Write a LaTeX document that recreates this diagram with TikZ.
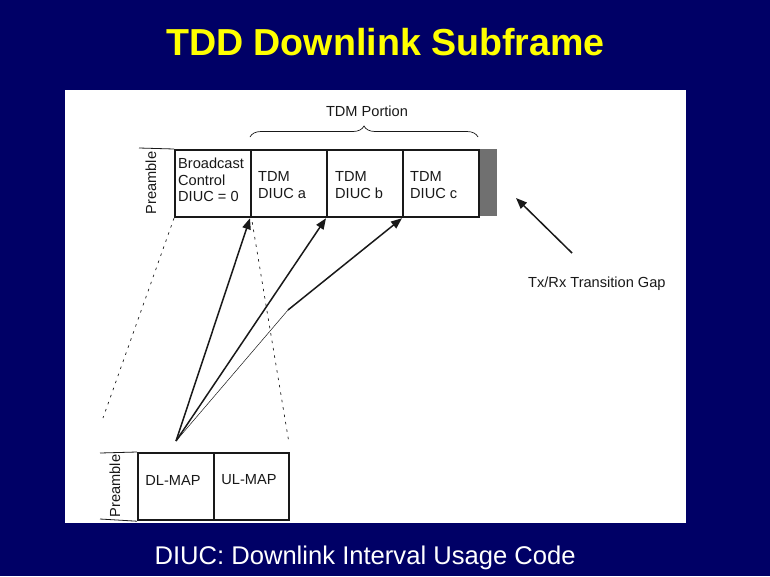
\documentclass[tikz,border=0pt]{standalone}
\usepackage{fontspec}
\setmainfont{Liberation Sans}
\usetikzlibrary{decorations.pathreplacing,arrows.meta}
\definecolor{navy}{RGB}{0,0,102}
\definecolor{titleyellow}{RGB}{255,255,0}
\definecolor{gapgray}{RGB}{112,112,112}
\definecolor{ink}{RGB}{25,25,25}
\begin{document}
\begin{tikzpicture}[x=1pt,y=-1pt,
  cell/.style={draw=ink,line width=2.2pt,minimum width=76pt,minimum height=67pt,inner sep=0pt,anchor=north west,font=\fontsize{14.6}{16.5}\selectfont,text=ink},
  lbl/.style={font=\fontsize{14.6}{16.5}\selectfont,text=ink,align=left,inner sep=0pt},
  arr/.style={draw=ink,line width=1.5pt,-{Triangle[length=11pt,width=8.5pt]}},
  dots/.style={draw=ink,line width=0.7pt,dash pattern=on 2.5pt off 5pt}]
\fill[navy] (0,0) rectangle (770,576);
\useasboundingbox (0,0) rectangle (770,576);
\node[font=\fontsize{37.6}{42}\selectfont\bfseries,text=titleyellow] (title) at (385.5,42) {TDD Downlink Subframe};
\fill[white] (65,90) rectangle (686,523);
% top frame
\fill[gapgray] (478,149) rectangle (497,216);
\node[cell] (bc) at (174,149) {};
\node[cell] (ta) at (250,149) {};
\node[cell] (tb) at (326,149) {};
\node[cell] (tc) at (402,149) {};
\draw[ink,line width=0.8pt] (139,148) -- (bc.north west);
\node[lbl,rotate=90,anchor=center] (pre1) at (151,183) {Preamble};
\node[lbl,anchor=north west] (bctext) at (178,158) {Broadcast\\Control\\DIUC = 0};
\node[lbl,anchor=west] (tatext) at (258,185) {TDM\\DIUC a};
\node[lbl,anchor=west] (tbtext) at (335,185) {TDM\\DIUC b};
\node[lbl,anchor=west] (tctext) at (410,185) {TDM\\DIUC c};
\draw[ink,line width=0.7pt,decorate,decoration={brace,amplitude=11pt}] (250,137) -- (478,137);
\node[lbl] (portion) at (367,111) {TDM Portion};
% bottom frame
\node[cell,minimum width=76pt] (dl) at (137,452) {};
\node[cell,minimum width=75pt] (ul) at (213,452) {};
\node[lbl] (dltext) at (173,480) {DL-MAP};
\node[lbl] (ultext) at (249,480) {UL-MAP};
\draw[ink,line width=0.8pt] (100,453) -- (dl.north west);
\draw[ink,line width=0.8pt] (100,519) -- (dl.south west);
\node[lbl,rotate=90,anchor=center] (pre2) at (115,486) {Preamble};
% dotted projection lines
\draw[dots] (bc.south west) -- (103,418);
\draw[dots] (bc.south east) ++(0,4) -- (289,443);
% arrows
\coordinate (src) at (176,441);
\coordinate (kink) at (288,310);
\draw[arr] (src) -- (ta.south west);
\draw[arr] (src) -- (tb.south west);
\draw[ink,line width=0.5pt] (src) -- (kink);
\draw[arr] (kink) -- (tc.south west);
% transition gap
\coordinate (gaptail) at (572,253);
\coordinate (gaptip) at (516,198);
\draw[arr] (gaptail) -- (gaptip);
\node[lbl,anchor=west] (gaplbl) at (528,284) {Tx/Rx Transition Gap};
\node[font=\fontsize{25.6}{29}\selectfont,text=white,anchor=west] (foot) at (151,558) {DIUC: Downlink Interval Usage Code};
\end{tikzpicture}
\end{document}
